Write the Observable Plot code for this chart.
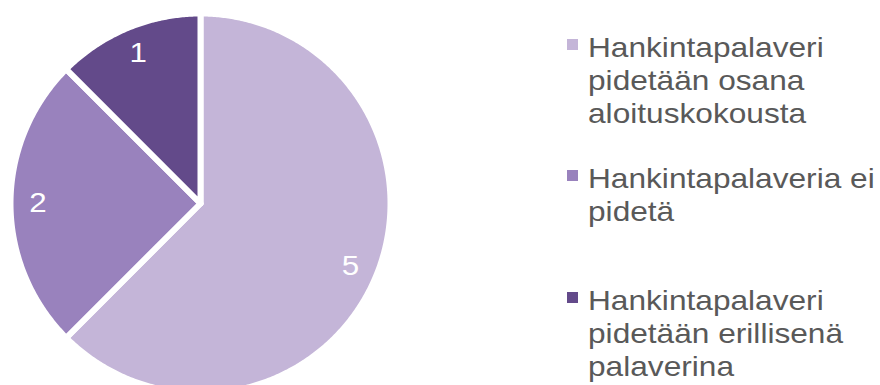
<!DOCTYPE html>
<html><head><meta charset="utf-8">
<script src="https://cdn.jsdelivr.net/npm/d3@7"></script>
<script src="https://cdn.jsdelivr.net/npm/@observablehq/plot@0.6"></script>
<style>
body{margin:0;background:#fff;font-family:"Liberation Sans",Arial,sans-serif;}
#wrap{position:relative;width:880px;height:385px;overflow:hidden;}
#chart{position:absolute;left:0;top:0;}
.item{position:absolute;left:567px;}
.sq{position:absolute;left:0;width:11px;height:11px;}
.txt{position:absolute;left:21px;top:0;font-size:28px;line-height:33px;color:#595959;white-space:nowrap;transform:scaleX(1.13);transform-origin:0 0;}
</style></head><body>
<div id="wrap"><div id="chart"></div><div id="legend"></div></div>
<script>
const categories = ["Hankintapalaveri pidetään osana aloituskokousta", "Hankintapalaveria ei pidetä", "Hankintapalaveri pidetään erillisenä palaverina"];
const values = [5, 2, 1];
const colors = ["#C4B5D8", "#9982BD", "#634A8A"];
const legendLines = [["Hankintapalaveri", "pidetään osana", "aloituskokousta"], ["Hankintapalaveria ei", "pidetä"], ["Hankintapalaveri", "pidetään erillisenä", "palaverina"]];

const cx = 200, cy = 203, R = 190;
const arcs = d3.pie().sort(null).value(d => d)(values);
const pts = [];
arcs.forEach((p, i) => {
  const cat = categories[i];
  pts.push({cat, x: 0, y: 0});
  const n = Math.max(4, Math.ceil((p.endAngle - p.startAngle) / (Math.PI / 360)));
  for (let k = 0; k <= n; k++) {
    const a = p.startAngle + (p.endAngle - p.startAngle) * k / n;
    pts.push({cat, x: Math.sin(a), y: Math.cos(a)});
  }
  pts.push({cat, x: 0, y: 0});
});
const labels = arcs.map((p, i) => {
  const a = (p.startAngle + p.endAngle) / 2;
  return {x: 0.855 * Math.sin(a), y: 0.855 * Math.cos(a), v: String(values[i])};
});

const chart = Plot.plot({
  width: 420, height: 385,
  marginTop: 0, marginRight: 0, marginBottom: 0, marginLeft: 0,
  x: {domain: [-1, 1], range: [cx - R, cx + R], axis: null},
  y: {domain: [-1, 1], range: [cy + R, cy - R], axis: null},
  color: {domain: categories, range: colors},
  style: {background: "white", overflow: "hidden"},
  marks: [
    Plot.line(pts, {x: "x", y: "y", z: "cat", fill: "cat", stroke: "white", strokeWidth: 6, curve: "linear"}),
    Plot.text(labels, {x: "x", y: "y", text: "v", fill: "white", fontSize: 28, fontFamily: "Liberation Sans, Arial, sans-serif"})
  ]
});
document.getElementById("chart").appendChild(chart);
chart.querySelectorAll('g[aria-label="text"] text').forEach(t => {
  const tr = t.getAttribute("transform");
  if (tr) t.setAttribute("transform", tr + " scale(1.12,1)");
});

const baselines = [57, 188, 310];
const legend = document.getElementById("legend");
categories.forEach((c, i) => {
  const item = document.createElement("div");
  item.className = "item";
  item.style.top = (baselines[i] - 26) + "px";
  const sq = document.createElement("div");
  sq.className = "sq";
  sq.style.top = "8px";
  sq.style.background = colors[i];
  const txt = document.createElement("div");
  txt.className = "txt";
  txt.innerHTML = legendLines[i].join("<br>");
  item.appendChild(sq); item.appendChild(txt);
  legend.appendChild(item);
});
</script></body></html>
